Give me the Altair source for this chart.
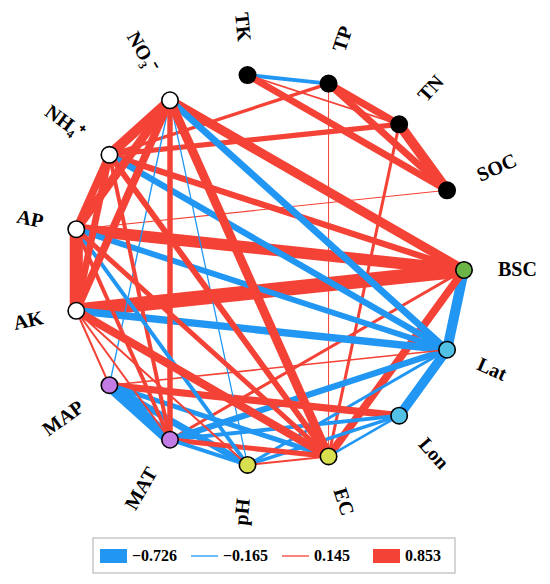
import altair as alt
import pandas as pd
import numpy as np

# ---------------- data ----------------
node_ids = ["BSC", "SOC", "TN", "TP", "TK", "NO3", "NH4", "AP", "AK",
            "MAP", "MAT", "pH", "EC", "Lon", "Lat"]
node_labels = ["BSC", "SOC", "TN", "TP", "TK", "NO₃⁻", "NH₄⁺", "AP", "AK",
               "MAP", "MAT", "pH", "EC", "Lon", "Lat"]
node_fills = ["#6cb446", "#000000", "#000000", "#000000", "#000000",
              "#ffffff", "#ffffff", "#ffffff", "#ffffff",
              "#c27ce3", "#c27ce3", "#d8df4e", "#d8df4e", "#52c1e6", "#52c1e6"]

edge_source = ["TK", "TK", "TK", "TP", "TP", "TN", "TP", "TN", "TN", "TP", "SOC",
               "NO3", "NH4", "AP", "AK", "BSC", "BSC", "BSC",
               "NO3", "NH4", "AP", "AK", "MAT", "Lat", "pH", "MAP",
               "MAP", "MAT", "pH", "EC",
               "MAP", "MAP", "MAP", "NO3", "AK",
               "NO3", "MAT", "MAT", "AP", "AK", "NH4",
               "AP", "NO3", "pH", "AK",
               "NO3", "NH4", "AK", "AP",
               "NO3", "NO3", "NO3", "NH4", "NH4", "AP"]
edge_target = ["TP", "TN", "SOC", "TN", "SOC", "SOC", "EC", "EC", "NH4", "NH4", "AP",
               "BSC", "BSC", "BSC", "BSC", "Lat", "EC", "MAT",
               "Lat", "Lat", "Lat", "Lat", "Lat", "Lon", "Lat", "Lat",
               "Lon", "Lon", "Lon", "Lon",
               "MAT", "pH", "EC", "MAP", "MAP",
               "MAT", "EC", "pH", "MAT", "MAT", "MAT",
               "pH", "pH", "EC", "pH",
               "EC", "EC", "EC", "EC",
               "NH4", "AP", "AK", "AP", "AK", "AK"]
edge_r = [-0.30, 0.18, 0.45, 0.47, 0.45, 0.62, 0.145, 0.25, 0.36, 0.27, 0.15,
          0.58, 0.42, 0.70, 0.853, -0.62, 0.50, 0.25,
          -0.45, -0.42, -0.40, -0.48, -0.42, -0.58, -0.25, 0.18,
          0.47, -0.30, -0.28, -0.22,
          -0.726, -0.45, -0.35, -0.165, 0.20,
          0.38, 0.36, -0.30, 0.30, 0.20, 0.30,
          -0.30, -0.16, 0.20, 0.20,
          0.56, 0.40, 0.52, 0.35,
          0.62, 0.55, 0.50, 0.50, 0.45, 0.78]

legend_values = [-0.726, -0.165, 0.145, 0.853]
legend_texts = ["−0.726", "−0.165", "0.145", "0.853"]

# ---------------- layout ----------------
W, H = 534, 568
CX, CY, R, LR = 260, 262, 196, 230
BLUE, RED = "#2196f3", "#f44336"

n = len(node_ids)
theta = np.deg2rad(np.arange(n) * 360.0 / n)
nodes = pd.DataFrame({
    "id": node_ids, "label": node_labels, "fill": node_fills,
    "x": CX + R * np.cos(theta), "y": CY - R * np.sin(theta),
    "lx": CX + LR * np.cos(theta), "ly": CY - LR * np.sin(theta),
})
deg = np.arange(n) * 360.0 / n
right = np.cos(theta) > 1e-9
nodes["rot"] = np.where(right, (-deg) % 360, (180 - deg) % 360)
nodes["right"] = right
pos = nodes.set_index("id")

edges = pd.DataFrame({"s": edge_source, "t": edge_target, "r": edge_r})
edges["x"] = pos.loc[edges.s, "x"].values
edges["y"] = pos.loc[edges.s, "y"].values
edges["x2"] = pos.loc[edges.t, "x"].values
edges["y2"] = pos.loc[edges.t, "y"].values
edges["absr"] = edges.r.abs()
edges["sign"] = np.where(edges.r < 0, "neg", "pos")

xs = alt.Scale(domain=[0, W])
ys = alt.Scale(domain=[0, H], reverse=True)
wscale = alt.Scale(domain=[0.145, 0.853], range=[1.0, 14.5])

edge_layer = alt.Chart(edges).mark_rule().encode(
    x=alt.X("x:Q", scale=xs, axis=None),
    y=alt.Y("y:Q", scale=ys, axis=None),
    x2="x2:Q", y2="y2:Q",
    color=alt.Color("sign:N", scale=alt.Scale(domain=["neg", "pos"], range=[BLUE, RED]), legend=None),
    strokeWidth=alt.StrokeWidth("absr:Q", scale=wscale, legend=None),
)

node_layer = alt.Chart(nodes).mark_circle(size=270, opacity=1, stroke="black", strokeWidth=1.6).encode(
    x=alt.X("x:Q", scale=xs, axis=None),
    y=alt.Y("y:Q", scale=ys, axis=None),
    fill=alt.Fill("fill:N", scale=None),
)

font = "Liberation Serif"
lab_r = alt.Chart(nodes[nodes.right]).mark_text(
    align="left", baseline="middle", font=font, fontSize=20, fontWeight="bold", color="black"
).encode(x=alt.X("lx:Q", scale=xs, axis=None), y=alt.Y("ly:Q", scale=ys, axis=None),
         angle=alt.Angle("rot:Q", scale=None), text="label:N")
lab_l = alt.Chart(nodes[~nodes.right]).mark_text(
    align="right", baseline="middle", font=font, fontSize=20, fontWeight="bold", color="black"
).encode(x=alt.X("lx:Q", scale=xs, axis=None), y=alt.Y("ly:Q", scale=ys, axis=None),
         angle=alt.Angle("rot:Q", scale=None), text="label:N")

# ---------------- legend ----------------
box = pd.DataFrame({"x": [85], "x2": [447], "y": [530], "y2": [565]})
box_layer = alt.Chart(box).mark_rect(fill="white", stroke="#c8c8c8", strokeWidth=1.5).encode(
    x=alt.X("x:Q", scale=xs, axis=None), x2="x2:Q",
    y=alt.Y("y:Q", scale=ys, axis=None), y2="y2:Q")

leg = pd.DataFrame({"v": legend_values, "txt": legend_texts})
leg["x0"] = 92 + 91 * np.arange(len(leg))
leg["x1"] = leg.x0 + 27
leg["tx"] = leg.x0 + 32
leg["yc"] = 548.0
leg["ya"] = 541.0
leg["yb"] = 555.0
leg["col"] = np.where(leg.v < 0, BLUE, RED)
leg["thick"] = leg.v.abs() > 0.5

thick_layer = alt.Chart(leg[leg.thick]).mark_rect().encode(
    x=alt.X("x0:Q", scale=xs, axis=None), x2="x1:Q",
    y=alt.Y("ya:Q", scale=ys, axis=None), y2="yb:Q",
    fill=alt.Fill("col:N", scale=None))
thin_layer = alt.Chart(leg[~leg.thick]).mark_rule(strokeWidth=1.3).encode(
    x=alt.X("x0:Q", scale=xs, axis=None), x2="x1:Q",
    y=alt.Y("yc:Q", scale=ys, axis=None),
    stroke=alt.Stroke("col:N", scale=None))
leg_text = alt.Chart(leg).mark_text(
    align="left", baseline="middle", font=font, fontSize=16, fontWeight="bold", color="black"
).encode(x=alt.X("tx:Q", scale=xs, axis=None), y=alt.Y("yc:Q", scale=ys, axis=None), text="txt:N")

chart = alt.layer(edge_layer, node_layer, lab_r, lab_l, box_layer, thick_layer, thin_layer, leg_text).properties(
    width=W, height=H, padding=0, autosize=alt.AutoSizeParams(type="none")
).configure(background="white").configure_view(stroke=None, strokeWidth=0)

chart.save("out.html", embed_options={"renderer": "svg", "actions": False})
